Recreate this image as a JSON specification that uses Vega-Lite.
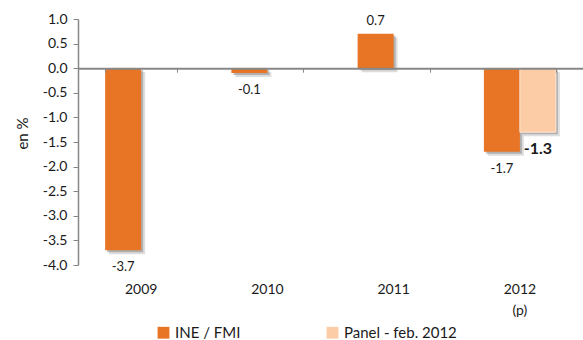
{
  "$schema": "https://vega.github.io/schema/vega-lite/v6.json",
  "width": 505,
  "height": 246,
  "autosize": {"type": "none"},
  "padding": {"left": 78, "top": 19, "right": 0, "bottom": 75},
  "background": "white",
  "config": {
    "view": {"stroke": null},
    "font": "Lato",
    "axis": {"grid": false, "labelColor": "#1a1a1a", "titleColor": "#1a1a1a", "domainColor": "#878787", "tickColor": "#878787"}
  },
  "data": {
    "values": [
      {"year": "2009", "series": "INE / FMI", "value": -3.7},
      {"year": "2010", "series": "INE / FMI", "value": -0.1},
      {"year": "2011", "series": "INE / FMI", "value": 0.7},
      {"year": "2012 (p)", "series": "INE / FMI", "value": -1.7},
      {"year": "2012 (p)", "series": "Panel - feb. 2012", "value": -1.3}
    ]
  },
  "encoding": {
    "y": {
      "field": "value",
      "type": "quantitative",
      "scale": {"domain": [-4, 1], "nice": false, "zero": false},
      "axis": {
        "title": "en %",
        "titleFontSize": 15,
        "titleFontWeight": "normal",
        "titlePadding": 12,
        "titleY": 114,
        "values": [-4, -3.5, -3, -2.5, -2, -1.5, -1, -0.5, 0, 0.5, 1],
        "format": ".1f",
        "labelExpr": "replace(datum.label, '\u2212', '-')",
        "labelFontSize": 14,
        "labelPadding": 6,
        "tickSize": 5,
        "domainWidth": 1.5
      }
    }
  },
  "layer": [
    {
      "mark": {"type": "bar", "color": "#8a8a8a", "opacity": 0.28, "yOffset": 4, "y2Offset": 4},
      "encoding": {
        "x": {"field": "year", "type": "nominal", "sort": null, "scale": {"paddingInner": 0.43, "paddingOuter": 0.215}, "axis": null},
        "xOffset": {"field": "series", "type": "nominal", "scale": {"domain": ["INE / FMI", "Panel - feb. 2012"], "paddingInner": 0, "range": [4, 76]}}
      }
    },
    {
      "mark": {"type": "bar", "color": "#777777", "opacity": 0.45, "yOffset": 2, "y2Offset": 2},
      "encoding": {
        "x": {"field": "year", "type": "nominal", "sort": null, "axis": null},
        "xOffset": {"field": "series", "type": "nominal", "scale": {"domain": ["INE / FMI", "Panel - feb. 2012"], "paddingInner": 0, "range": [2, 74]}}
      }
    },
    {
      "mark": {"type": "bar", "strokeWidth": 1},
      "encoding": {
        "x": {
          "field": "year",
          "type": "nominal",
          "sort": null,
          "axis": {
            "title": null,
            "orient": "bottom",
            "domain": false,
            "ticks": false,
            "labelAngle": 0,
            "labelFontSize": 14,
            "labelPadding": 17,
            "labelLineHeight": 21,
            "labelExpr": "split(datum.label, ' ')"
          }
        },
        "xOffset": {"field": "series", "type": "nominal", "scale": {"domain": ["INE / FMI", "Panel - feb. 2012"], "paddingInner": 0}},
        "color": {
          "field": "series",
          "type": "nominal",
          "scale": {"domain": ["INE / FMI", "Panel - feb. 2012"], "range": ["#E87425", "#FCCCA6"]},
          "legend": {
            "title": null,
            "orient": "none",
            "legendX": 78,
            "legendY": 306,
            "direction": "horizontal",
            "symbolType": "square",
            "symbolSize": 140,
            "symbolStrokeWidth": 0,
            "labelFontSize": 15,
            "labelColor": "#1a1a1a",
            "labelOffset": 4,
            "columnPadding": 84
          }
        },
        "stroke": {
          "condition": {"test": "datum.series === 'Panel - feb. 2012'", "value": "#FFE6D3"},
          "value": null
        }
      }
    },
    {
      "transform": [{"filter": "datum.value < 0 && datum.series === 'INE / FMI'"}],
      "mark": {"type": "text", "baseline": "top", "dy": 11, "fontSize": 13, "color": "#1a1a1a"},
      "encoding": {
        "x": {"field": "year", "type": "nominal", "sort": null, "axis": null},
        "xOffset": {"field": "series", "type": "nominal", "scale": {"domain": ["INE / FMI", "Panel - feb. 2012"], "paddingInner": 0}},
        "text": {"field": "value", "type": "nominal"}
      }
    },
    {
      "transform": [{"filter": "datum.series === 'Panel - feb. 2012'"}],
      "mark": {"type": "text", "baseline": "top", "dy": 9, "fontSize": 16, "fontWeight": "bold", "color": "#1a1a1a"},
      "encoding": {
        "x": {"field": "year", "type": "nominal", "sort": null, "axis": null},
        "xOffset": {"field": "series", "type": "nominal", "scale": {"domain": ["INE / FMI", "Panel - feb. 2012"], "paddingInner": 0}},
        "text": {"field": "value", "type": "nominal"}
      }
    },
    {
      "transform": [{"filter": "datum.value >= 0"}],
      "mark": {"type": "text", "baseline": "bottom", "dy": -6, "fontSize": 13, "color": "#1a1a1a"},
      "encoding": {
        "x": {
          "field": "year",
          "type": "nominal",
          "sort": null,
          "axis": {
            "title": null,
            "orient": "bottom",
            "offset": {"expr": "scale('y', 0) - height"},
            "labels": false,
            "domain": true,
            "domainWidth": 2,
            "ticks": true,
            "tickBand": "extent",
            "tickSize": 4,
            "tickWidth": 1,
            "zindex": 1
          }
        },
        "xOffset": {"field": "series", "type": "nominal", "scale": {"domain": ["INE / FMI", "Panel - feb. 2012"], "paddingInner": 0}},
        "text": {"field": "value", "type": "nominal"}
      }
    }
  ],
  "resolve": {"axis": {"x": "independent"}, "scale": {"xOffset": "independent"}}
}
